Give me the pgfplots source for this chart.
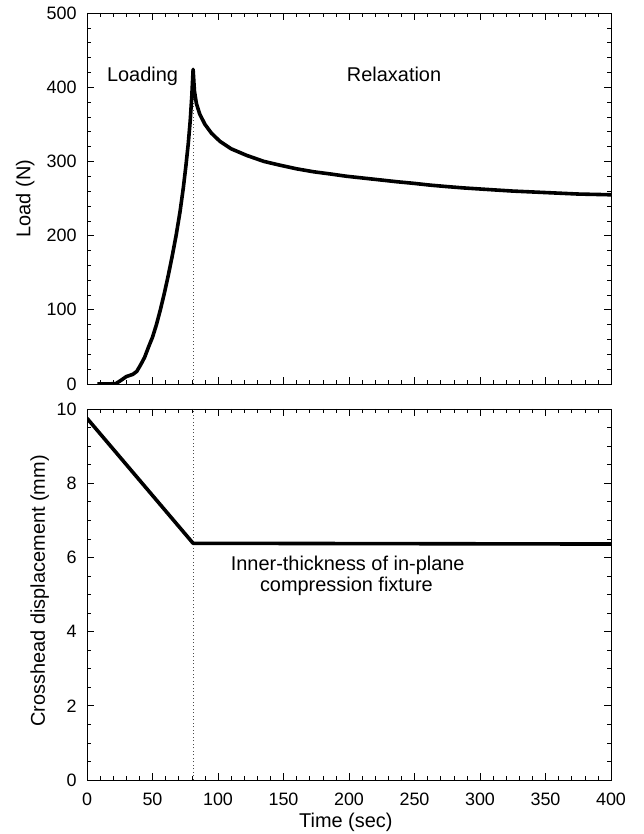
\documentclass[border=0pt]{standalone}
\usepackage{pgfplots}
\pgfplotsset{compat=1.18}
\usepackage{fontspec}
\setmainfont{Liberation Sans}

% load history during loading and relaxation
\pgfplotstableread{
t     load
8     0
15    0
22    0.5
26    5
30    10
35    13
38    17
41    26
44    36
47    50
50    63
53    80
56    100
59    122
62    146
65    172
68    200
71    232
73.5  264
75.5  294
77.3  324
78.8  355
80    388
81    424
82    395
83.5  378
86    364
90    350
95    338
101.5 327
110   317
122   308
135   300
147   295
160   290
173   286
186   283
198   280
211   277.5
224   275
237   272.5
249   270.5
262   268
275   266
287   264.3
300   262.8
325   260
350   258
375   256
400   255
}\loaddata

% crosshead position
\pgfplotstableread{
t     disp
0     9.75
81    6.38
400   6.36
}\dispdata

\pgfplotsset{
  panel/.style={
    scale only axis, width=524bp, height=371bp,
    xmin=0, xmax=400, xtick distance=50, minor x tick num=4,
    tick align=inside, major tick length=7bp, minor tick length=4bp,
    axis line style={line width=0.8bp},
    every major tick/.style={line width=0.6bp, black},
    every minor tick/.style={line width=0.5bp, black},
    tick label style={font=\fontsize{18}{18}\selectfont},
    /pgf/number format/assume math mode=true,
    xticklabel style={yshift=-9bp},
    yticklabel style={xshift=-7bp},
    label style={font=\fontsize{20}{24}\selectfont},
  },
  curve/.style={line width=3.6bp, black, line join=round},
  marker line/.style={line width=0.7bp, black!70, dash pattern=on 1bp off 2.5bp},
}

\begin{document}
\begin{tikzpicture}
\useasboundingbox (0bp,0bp) rectangle (644bp,834bp);

% upper panel: load
\begin{axis}[panel, at={(87bp,450bp)}, anchor=south west,
  ymin=0, ymax=500, ytick distance=100, minor y tick num=4,
  xticklabel=\empty,
  ylabel={Load (N)},
  ylabel style={at={(axis description cs:-0.118,0.5)}, anchor=center},
]
\addplot[marker line] coordinates {(81,0) (81,424)};
\addplot[curve] table[x=t, y=load] {\loaddata};
\node[anchor=base, font=\fontsize{20}{24}\selectfont] at (axis cs:42.4,407) {Loading};
\node[anchor=base, font=\fontsize{20}{24}\selectfont] at (axis cs:234.4,407) {Relaxation};
\end{axis}

% lower panel: crosshead displacement
\begin{axis}[panel, at={(87bp,54bp)}, anchor=south west,
  ymin=0, ymax=10, ytick distance=2, minor y tick num=3,
  xlabel={Time (sec)},
  xlabel style={at={(axis description cs:0.494,-0.113)}, anchor=center},
  ylabel={Crosshead displacement (mm)},
  ylabel style={at={(axis description cs:-0.09,0.51)}, anchor=center},
]
\addplot[marker line] coordinates {(81,0) (81,10)};
\addplot[curve] table[x=t, y=disp] {\dispdata};
\node[anchor=base, font=\fontsize{20}{24}\selectfont] at (axis cs:199,5.66) {Inner-thickness of in-plane};
\node[anchor=base, font=\fontsize{20}{24}\selectfont] at (axis cs:198,5.07) {compression fixture};
\end{axis}
\end{tikzpicture}
\end{document}
